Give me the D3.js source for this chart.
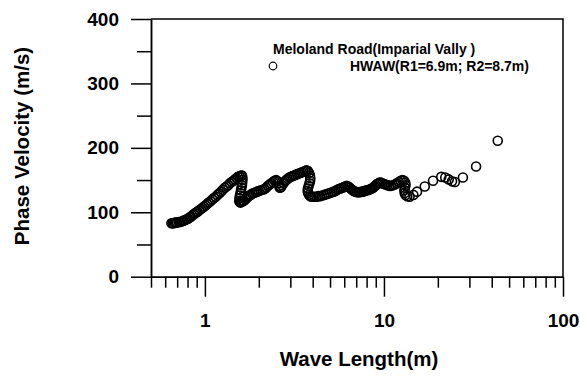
<!DOCTYPE html>
<html>
<head>
<meta charset="utf-8">
<script src="https://cdn.jsdelivr.net/npm/d3@7"></script>
<style>
  body { margin: 0; background: #fff; }
  svg { display: block; }
  .axis text { font-family: "Liberation Sans", Arial, sans-serif; font-weight: bold; font-size: 19px; fill: #000; }
  .axis path, .axis line { stroke: #000; stroke-width: 1.5; }
  .title { font-family: "Liberation Sans", Arial, sans-serif; font-weight: bold; font-size: 20.5px; fill: #000; }
  .legend { font-family: "Liberation Sans", Arial, sans-serif; font-weight: bold; font-size: 14px; fill: #000; }
</style>
</head>
<body>
<div id="chart"></div>
<script>
// wave length (m)
const wavelength = [
  0.650, 0.660, 0.670, 0.680, 0.690, 0.700, 0.715, 0.730, 0.745, 0.760,
  0.775, 0.790, 0.805, 0.820, 0.835, 0.850, 0.865, 0.880, 0.895, 0.910,
  0.930, 0.950, 0.970, 0.990, 1.010, 1.030, 1.050, 1.075, 1.100, 1.125,
  1.150, 1.175, 1.200, 1.230, 1.260, 1.290, 1.320, 1.350, 1.380, 1.410,
  1.440, 1.470, 1.500, 1.530, 1.560, 1.590, 1.610,
  1.620, 1.620, 1.615, 1.610, 1.600, 1.590, 1.580, 1.570, 1.560, 1.555,
  1.565, 1.580, 1.600,
  1.625, 1.650, 1.680, 1.710, 1.740, 1.770, 1.800, 1.840, 1.880, 1.920,
  1.960, 2.000, 2.050, 2.100, 2.150, 2.200, 2.250, 2.300, 2.350, 2.400,
  2.450, 2.500, 2.550, 2.580, 2.600, 2.620, 2.660, 2.700, 2.750, 2.800,
  2.850, 2.900, 2.960, 3.020, 3.080, 3.140, 3.200, 3.270, 3.340, 3.410,
  3.480, 3.550, 3.620, 3.690, 3.760, 3.820, 3.860, 3.880, 3.870, 3.840,
  3.800, 3.760, 3.750, 3.770, 3.820, 3.880, 3.950, 4.020, 4.100, 4.200,
  4.300, 4.400, 4.520, 4.640, 4.760, 4.880, 5.000, 5.120, 5.240, 5.360,
  5.480, 5.600, 5.720, 5.840, 5.960, 6.080, 6.200, 6.320, 6.440, 6.560,
  6.680, 6.800, 6.920, 7.060, 7.200, 7.350, 7.500, 7.650, 7.800, 7.950,
  8.100, 8.250, 8.400, 8.550, 8.700, 8.850, 9.000, 9.150, 9.300, 9.450,
  9.600, 9.800, 10.00, 10.20, 10.45, 10.70, 10.95, 11.20, 11.50, 11.80,
  12.10, 12.40, 12.70, 12.95, 13.15, 13.20, 13.10, 13.00, 13.05, 13.20,
  13.50, 13.90,
  14.6, 15.3, 16.9, 18.8, 20.9, 22.0, 23.0, 24.0, 24.9, 27.6, 32.7, 43.2
];
// phase velocity (m/s)
const velocity = [
  83, 83, 83, 84, 84, 84, 85, 85, 86, 87,
  88, 89, 90, 92, 93, 95, 97, 98, 100, 101,
  103, 105, 107, 109, 111, 113, 115, 117, 120, 122,
  124, 127, 129, 132, 135, 138, 140, 142, 145, 147,
  149, 151, 153, 155, 156, 157, 157,
  154, 150, 146, 142, 138, 134, 130, 126, 122, 118,
  116, 115, 116,
  117, 118, 120, 122, 124, 126, 127, 129, 130, 131,
  132, 133, 134, 135, 136, 138, 141, 143, 145, 147,
  149, 150, 148, 145, 141, 138, 139, 142, 145, 148,
  150, 152, 154, 155, 156, 157, 158, 159, 160, 161,
  162, 163, 164, 165, 164, 161, 157, 153, 149, 145,
  141, 137, 133, 130, 127, 125, 124, 124, 124, 124,
  125, 125, 126, 127, 128, 129, 130, 131, 132, 133,
  135, 136, 137, 138, 139, 140, 141, 140, 138, 136,
  134, 133, 132, 131, 131, 131, 132, 132, 133, 134,
  134, 135, 136, 137, 138, 140, 142, 144, 145, 146,
  146, 145, 144, 143, 142, 141, 141, 142, 143, 145,
  147, 149, 150, 149, 146, 142, 138, 134, 130, 127,
  125, 124,
  127, 132, 140, 149, 155, 154, 151, 148, 147, 154, 171, 211
];

const xMajor = [1, 10, 100];
const xMinor = [0.5, 0.6, 0.7, 0.8, 0.9, 2, 3, 4, 5, 6, 7, 8, 9, 20, 30, 40, 50, 60, 70, 80, 90];
const yMajor = [0, 100, 200, 300, 400];
const yMinor = [50, 150, 250, 350];

const legendLines = ["Meloland Road(Imparial Vally )", "HWAW(R1=6.9m; R2=8.7m)"];

const width = 580, height = 376;
const margin = { top: 19, right: 17, bottom: 99.3, left: 151 };

const svg = d3.select('#chart').append('svg')
  .attr('width', width)
  .attr('height', height);

const x = d3.scaleLog().domain([0.5, 100]).range([margin.left, width - margin.right]);
const y = d3.scaleLinear().domain([0, 400]).range([height - margin.bottom, margin.top]);

// frame (top and right)
svg.append('path')
  .attr('d', `M${x(0.5)},${y(400)}H${x(100)}V${y(0)}`)
  .attr('fill', 'none').attr('stroke', '#000').attr('stroke-width', 1.5);

// x axis
svg.append('g').attr('class', 'axis')
  .attr('transform', `translate(0,${y(0)})`)
  .call(d3.axisBottom(x).tickValues(xMinor).tickSize(11).tickSizeOuter(0).tickFormat(''));
svg.append('g').attr('class', 'axis')
  .attr('transform', `translate(0,${y(0)})`)
  .call(d3.axisBottom(x).tickValues(xMajor).tickSize(20).tickSizeOuter(0).tickPadding(17).tickFormat(d3.format('d')));

// y axis
svg.append('g').attr('class', 'axis')
  .attr('transform', `translate(${x(0.5)},0)`)
  .call(d3.axisLeft(y).tickValues(yMinor).tickSize(14).tickSizeOuter(0).tickFormat(''));
svg.append('g').attr('class', 'axis')
  .attr('transform', `translate(${x(0.5)},0)`)
  .call(d3.axisLeft(y).tickValues(yMajor).tickSize(20).tickSizeOuter(0).tickPadding(12));

// points
svg.append('g').selectAll('circle')
  .data(wavelength.map((w, i) => [w, velocity[i]]))
  .join('circle')
  .attr('cx', d => x(d[0]))
  .attr('cy', d => y(d[1]))
  .attr('r', 4.5)
  .attr('fill', 'none')
  .attr('stroke', '#000')
  .attr('stroke-width', 1.6);

// legend
svg.append('text').attr('class', 'legend')
  .attr('x', 273).attr('y', 54).text(legendLines[0]);
svg.append('circle')
  .attr('cx', 273).attr('cy', 66).attr('r', 3.8)
  .attr('fill', 'none').attr('stroke', '#000').attr('stroke-width', 1.2);
svg.append('text').attr('class', 'legend')
  .attr('x', 350).attr('y', 71).text(legendLines[1]);

// axis titles
svg.append('text').attr('class', 'title')
  .attr('x', 359).attr('y', 366).attr('text-anchor', 'middle')
  .text('Wave Length(m)');
svg.append('text').attr('class', 'title')
  .attr('transform', 'translate(29,146) rotate(-90)')
  .attr('text-anchor', 'middle')
  .text('Phase Velocity (m/s)');
</script>
</body>
</html>
